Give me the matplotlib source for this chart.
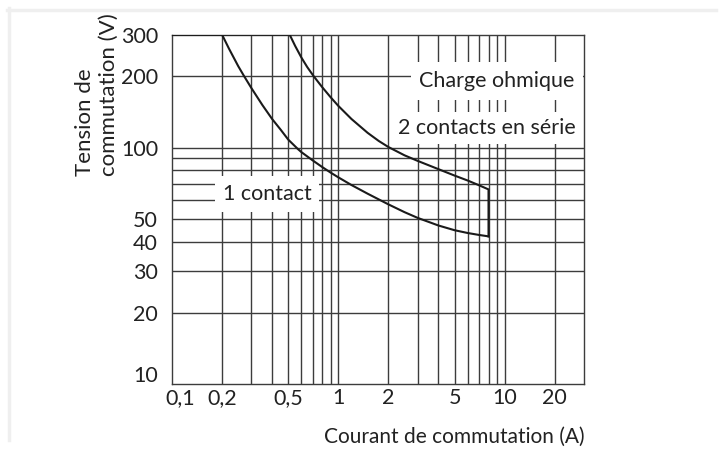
import matplotlib
matplotlib.use("Agg")
import matplotlib.pyplot as plt
from matplotlib.lines import Line2D
from matplotlib.transforms import ScaledTranslation

plt.rcParams['font.family'] = ['Lato', 'DejaVu Sans']

# ---- data ----
x_grid = [0.2, 0.3, 0.4, 0.5, 0.6, 0.7, 0.8, 0.9, 1, 2, 3, 4, 5, 6, 7, 8, 9, 10, 20]
y_grid = [20, 30, 40, 50, 60, 70, 80, 90, 100, 200]
x_ticks = [0.1, 0.2, 0.5, 1, 2, 5, 10, 20]
x_ticklabels = ["0,1", "0,2", "0,5", "1", "2", "5", "10", "20"]
y_ticks = [10, 20, 30, 40, 50, 100, 200, 300]
y_ticklabels = ["10", "20", "30", "40", "50", "100", "200", "300"]

# 1 contact
one_I = [0.1, 0.2, 0.22, 0.25, 0.27, 0.3, 0.35, 0.4, 0.45, 0.5, 0.57, 0.6, 0.7,
         0.8, 0.9, 1.0, 1.2, 1.5, 2, 2.5, 3, 4, 5, 6, 7, 8]
one_V = [300, 300, 262, 221, 201.5, 178.5, 151, 132, 119, 108, 98.7, 95.6, 88.3,
         82.7, 78.3, 74.8, 69.4, 63.8, 57.5, 53.3, 50.4, 46.8, 44.7, 43.5, 42.7, 42.1]

# 2 contacts en série
two_I = [0.1, 0.51, 0.55, 0.6, 0.65, 0.71, 0.8, 0.9, 1.0, 1.2, 1.5, 1.75, 2,
         2.5, 3, 4, 5, 6, 7, 8, 8]
two_V = [300, 300, 269, 240, 219, 200.5, 180, 163, 150, 132, 115.4, 106.6, 100.5,
         92.7, 87.8, 81, 76.1, 72.5, 69.3, 66.5, 42.1]

fig = plt.figure(figsize=(7.23, 4.59), dpi=100)
ax = fig.add_axes([172/723, 1-384/459, (584-172)/723, (384-34.7)/459])
ax.set_xscale('log')
ax.set_yscale('log')
ax.set_xlim(0.1, 30)
ax.set_ylim(10, 300)

gc = '#3c3c3c'
for xv in x_grid:
    ax.axvline(xv, color=gc, lw=1.0, zorder=1)
for yv in y_grid:
    ax.axhline(yv, color=gc, lw=1.0, zorder=1)

ax.plot(one_I, one_V, color='#1a1a1a', lw=1.5, zorder=3, solid_joinstyle='round')
ax.plot(two_I, two_V, color='#1a1a1a', lw=1.5, zorder=3, solid_joinstyle='round')

for s in ax.spines.values():
    s.set_color(gc)
    s.set_linewidth(1.0)

ax.set_xticks(x_ticks)
ax.set_xticklabels(x_ticklabels)
ax.set_yticks(y_ticks)
ax.set_yticklabels(y_ticklabels)
ax.minorticks_off()
ax.tick_params(length=0, labelsize=15.5, colors='#222222')
ax.tick_params(axis='x', pad=3)
ax.tick_params(axis='y', pad=10)

# nudge the corner labels apart, as in the reference
xl0 = ax.get_xticklabels()[0]
xl0.set_transform(xl0.get_transform() + ScaledTranslation(8/100, 0, fig.dpi_scale_trans))
yl0 = ax.get_yticklabels()[0]
yl0.set_transform(yl0.get_transform() + ScaledTranslation(0, 10/100, fig.dpi_scale_trans))

tc = '#222222'
ax.text(497/723, 1-81/459, "Charge ohmique", transform=fig.transFigure,
        ha='center', va='center', fontsize=15.5, color=tc, zorder=4,
        bbox=dict(facecolor='white', edgecolor='none', boxstyle='square,pad=0.4'))
ax.text(487/723, 1-128/459, "2 contacts en série", transform=fig.transFigure,
        ha='center', va='center', fontsize=15.5, color=tc, zorder=4,
        bbox=dict(facecolor='white', edgecolor='none', boxstyle='square,pad=0.3'))
ax.text(267/723, 1-194/459, "1 contact", transform=fig.transFigure,
        ha='center', va='center', fontsize=15.5, color=tc, zorder=4,
        bbox=dict(facecolor='white', edgecolor='none', boxstyle='square,pad=0.35'))

fig.text(585/723, 1-437/459, "Courant de commutation (A)", ha='right', va='center',
         fontsize=15, color=tc)
fig.text(97/723, 1-176/459, "Tension de\ncommutation (V)", rotation=90,
         ha='center', va='bottom', multialignment='left', fontsize=16,
         color=tc, linespacing=1.2)

fig.add_artist(Line2D([8.5/723, 8.5/723], [1-8/459, 1-440/459], color='#efefef', lw=2.5,
                      transform=fig.transFigure))
fig.add_artist(Line2D([7/723, 716/723], [1-9.5/459, 1-9.5/459], color='#efefef', lw=2.5,
                      transform=fig.transFigure))

fig.savefig("out.png", dpi=100, facecolor='white')
